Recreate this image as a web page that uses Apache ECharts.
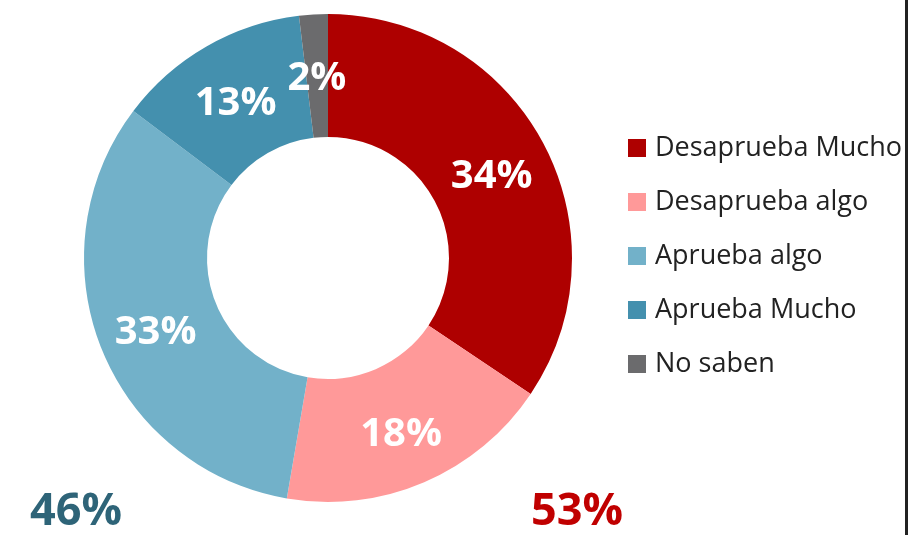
<!DOCTYPE html>
<html>
<head>
<meta charset="utf-8">
<script src="https://cdn.jsdelivr.net/npm/echarts@6/dist/echarts.min.js"></script>
<style>
  html, body { margin: 0; padding: 0; background: #fff; }
  #chart { width: 908px; height: 535px; }
</style>
</head>
<body>
<div id="chart"></div>
<script>
const categories = ['Desaprueba Mucho', 'Desaprueba algo', 'Aprueba algo', 'Aprueba Mucho', 'No saben']
const values = [34.4, 18.3, 32.6, 12.8, 1.9]
const colors = ['#AE0000', '#FF9999', '#72B1C9', '#4490AE', '#6B6B6D']
const approveTotal = '46%'
const disapproveTotal = '53%'

const font = '"Open Sans", "Noto Sans", sans-serif'

const myChart = echarts.init(document.getElementById('chart'), null, { renderer: 'canvas' })

const option = {
  animation: false,
  color: colors,
  legend: {
    orient: 'vertical',
    left: 623,
    top: 127,
    itemWidth: 18,
    itemHeight: 18,
    itemGap: 22,
    icon: 'rect',
    selectedMode: false,
    textStyle: {
      fontFamily: font,
      fontSize: 27,
      lineHeight: 32,
      color: '#222',
      padding: [0, 0, 0, 4],
    },
    data: categories,
  },
  series: [
    {
      type: 'pie',
      center: [328, 258],
      radius: [121, 244],
      startAngle: 90,
      clockwise: true,
      label: {
        show: true,
        position: 'inside',
        formatter: (p) => Math.round(p.value) + '%',
        color: '#fff',
        fontFamily: font,
        fontWeight: 'bold',
        fontSize: 40,
        offset: [0, 6],
      },
      labelLine: { show: false },
      emphasis: { disabled: true },
      itemStyle: { borderWidth: 0 },
      data: categories.map((name, i) => ({ name: name, value: values[i] })),
    },
  ],
  graphic: [
    {
      type: 'text',
      left: 30,
      top: 490,
      style: {
        text: approveTotal,
        fill: '#2E6478',
        font: 'bold 45px ' + font,
      },
    },
    {
      type: 'text',
      left: 531,
      top: 490,
      style: {
        text: disapproveTotal,
        fill: '#C00000',
        font: 'bold 45px ' + font,
      },
    },
    {
      type: 'rect',
      shape: { x: 903, y: 0, width: 5, height: 535 },
      style: { fill: '#fff' },
      z: 100,
    },
    {
      type: 'rect',
      shape: { x: 905, y: 0, width: 3, height: 535 },
      style: { fill: '#222' },
      z: 101,
    },
  ],
}

myChart.setOption(option)
</script>
</body>
</html>
